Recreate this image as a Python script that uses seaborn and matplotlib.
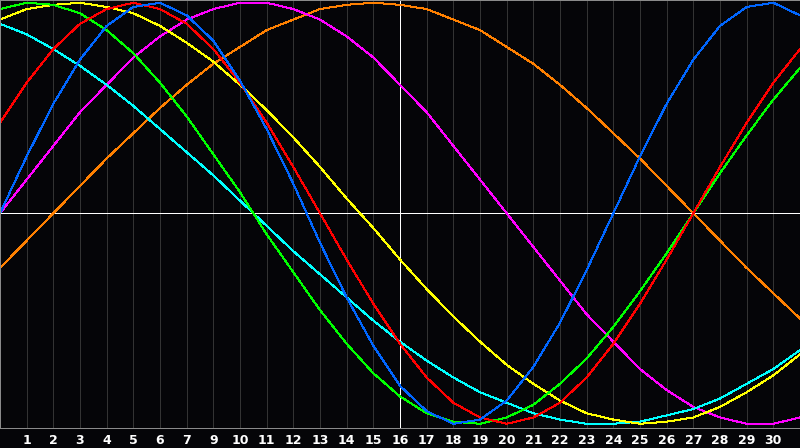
import matplotlib
matplotlib.use("Agg")
import matplotlib.pyplot as plt
import seaborn as sns
import pandas as pd

days = list(range(0, 31))

physical = [0.00, 0.27, 0.52, 0.73, 0.89, 0.98, 1.00, 0.94, 0.82, 0.63, 0.40,
            0.14, -0.14, -0.40, -0.63, -0.82, -0.94, -1.00, -0.98, -0.89, -0.73,
            -0.52, -0.27, 0.00, 0.27, 0.52, 0.73, 0.89, 0.98, 1.00, 0.94]
emotional = [0.43, 0.62, 0.78, 0.90, 0.97, 1.00, 0.97, 0.90, 0.78, 0.62, 0.43,
             0.22, 0.00, -0.22, -0.43, -0.62, -0.78, -0.90, -0.97, -1.00, -0.97,
             -0.90, -0.78, -0.62, -0.43, -0.22, 0.00, 0.22, 0.43, 0.62, 0.78]
intellectual = [0.97, 1.00, 0.99, 0.95, 0.87, 0.76, 0.62, 0.46, 0.28, 0.10, -0.10,
                -0.28, -0.46, -0.62, -0.76, -0.87, -0.95, -0.99, -1.00, -0.97, -0.91,
                -0.81, -0.69, -0.54, -0.37, -0.19, 0.00, 0.19, 0.37, 0.54, 0.69]
intuitive = [0.00, 0.16, 0.32, 0.48, 0.61, 0.74, 0.84, 0.92, 0.97, 1.00, 1.00,
             0.97, 0.92, 0.84, 0.74, 0.61, 0.48, 0.32, 0.16, 0.00, -0.16,
             -0.32, -0.48, -0.61, -0.74, -0.84, -0.92, -0.97, -1.00, -1.00, -0.97]
aesthetic = [0.92, 0.97, 0.99, 1.00, 0.98, 0.95, 0.89, 0.81, 0.72, 0.61, 0.49,
             0.36, 0.22, 0.07, -0.07, -0.22, -0.36, -0.49, -0.61, -0.72, -0.81,
             -0.89, -0.95, -0.98, -1.00, -0.99, -0.97, -0.92, -0.85, -0.77, -0.67]
awareness = [-0.26, -0.13, 0.00, 0.13, 0.26, 0.38, 0.50, 0.61, 0.71, 0.79, 0.87,
             0.92, 0.97, 0.99, 1.00, 0.99, 0.97, 0.92, 0.87, 0.79, 0.71,
             0.61, 0.50, 0.38, 0.26, 0.13, 0.00, -0.13, -0.26, -0.38, -0.50]
spiritual = [0.90, 0.85, 0.78, 0.70, 0.61, 0.51, 0.40, 0.29, 0.18, 0.06, -0.06,
             -0.18, -0.29, -0.40, -0.51, -0.61, -0.70, -0.78, -0.85, -0.90, -0.95,
             -0.98, -1.00, -1.00, -0.99, -0.96, -0.93, -0.88, -0.81, -0.74, -0.65]

tick_labels = ["1", "2", "3", "4", "5", "6", "7", "9", "10", "11", "12", "13", "14",
               "15", "16", "17", "18", "19", "20", "21", "22", "23", "24", "25",
               "26", "27", "28", "29", "30"]
today = 15

series = {
    "awareness": awareness,
    "intuitive": intuitive,
    "spiritual": spiritual,
    "aesthetic": aesthetic,
    "intellectual": intellectual,
    "emotional": emotional,
    "physical": physical,
}
colors = {
    "awareness": "#ff8000",
    "intuitive": "#ff00ff",
    "spiritual": "#00ffff",
    "aesthetic": "#ffff00",
    "intellectual": "#00ff00",
    "emotional": "#ff0000",
    "physical": "#0066ff",
}

df = pd.concat([pd.DataFrame({"day": days, "value": v, "cycle": k})
                for k, v in series.items()], ignore_index=True)

fig = plt.figure(figsize=(8, 4.48), dpi=100, facecolor="#050508")
ax = fig.add_axes([0, 20 / 448, 1, 428 / 448])
ax.set_facecolor("#050508")

# day grid, 1px lines
px = 0.72
for d in range(1, 30):
    ax.axvline(d, color="#333333", lw=px, antialiased=False, zorder=0)
ax.axvline(today, color="white", lw=px, antialiased=False, zorder=1)
ax.axhline(0, color="white", lw=px, antialiased=False, zorder=1)

sns.lineplot(data=df, x="day", y="value", hue="cycle", palette=colors,
             lw=px, legend=False, ax=ax, zorder=2, antialiased=False)

ax.set_xlim(0, 30)
ax.set_ylim(-1.02, 1.013)
ax.set_xticks(range(1, 30))
ax.set_xticklabels(tick_labels)
ax.tick_params(axis="x", length=0, pad=4, colors="white", labelsize=9)
for t in ax.get_xticklabels():
    t.set_fontweight("bold")
ax.set_yticks([])
ax.set_xlabel("")
ax.set_ylabel("")
for s in ax.spines.values():
    s.set_color("#8a8a8a")
    s.set_linewidth(px)

fig.savefig("out.png", dpi=100, facecolor=fig.get_facecolor())
